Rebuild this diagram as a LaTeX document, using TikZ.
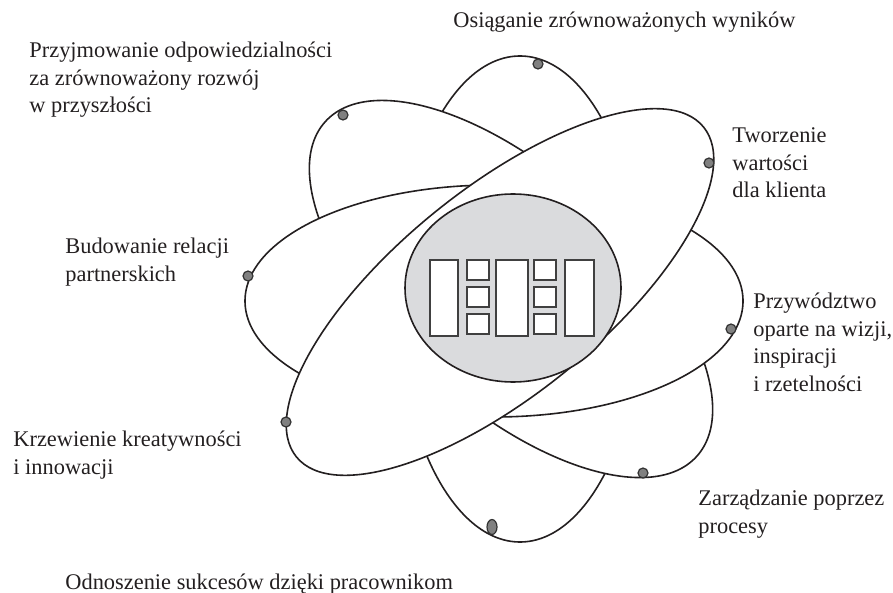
\documentclass[tikz,border=0pt]{standalone}
\usepackage{fontspec}
\setmainfont{Liberation Serif}
\usepackage{tikz}
\definecolor{coregray}{RGB}{218,219,221}
\definecolor{dotgray}{RGB}{128,128,128}
\definecolor{inkline}{RGB}{35,31,32}

\begin{document}
\begin{tikzpicture}[x=0.5pt,y=-0.5pt,
    orbit/.style={draw=inkline, line width=0.8pt, fill=white},
    core/.style={draw=inkline, line width=0.8pt, fill=coregray},
    cell/.style={draw=black!75, line width=1pt, fill=white},
    bead/.style={draw=black!80, line width=0.6pt, fill=dotgray},
    lbl/.style={anchor=base west, align=left, inner sep=0pt,
                font=\fontsize{11.2}{13.75}\selectfont, text=inkline}
  ]
  \useasboundingbox (0,0) rectangle (893,593);
  \draw[orbit] (520,299) ellipse (122 and 243);
  \draw[orbit, shift={(511,289)}, rotate=-42] (0,0) ellipse (250 and 117);
  \draw[orbit] (494,301) ellipse (249 and 116);
  \draw[orbit, shift={(500,292)}, rotate=39] (0,0) ellipse (262 and 103);
  \draw[core] (513,288) ellipse (108 and 94);
  \draw[cell] (430,260) rectangle (458,336);
  \draw[cell] (496,260) rectangle (528,336);
  \draw[cell] (565,260) rectangle (594,336);
  \foreach \x in {467,534}
    \foreach \y in {260,287,314}
      \draw[cell] (\x,\y) rectangle ++(22,20);
  \foreach \p in {(538,64),(343,115),(709,163),(248,276),(731,329),(286,422),(643,473)}
    \draw[bead] \p circle (5);
  \draw[bead] (492,527) ellipse (5 and 7.5);
  \node[lbl] (osi) at (453,28) {Osiąganie zrównoważonych wyników};
  \node[lbl] (prz) at (29,113) {Przyjmowanie odpowiedzialności\\za zrównoważony rozwój\\w przyszłości};
  \node[lbl] (two) at (732,198) {Tworzenie\\wartości\\dla klienta};
  \node[lbl] (bud) at (65,281) {Budowanie relacji\\partnerskich};
  \node[lbl] (prw) at (753,391) {Przywództwo\\oparte na wizji,\\inspiracji\\i rzetelności};
  \node[lbl] (krz) at (13,474) {Krzewienie kreatywności\\i innowacji};
  \node[lbl] (zar) at (698,533) {Zarządzanie poprzez\\procesy};
  \node[lbl] (odn) at (65,589) {Odnoszenie sukcesów dzięki pracownikom};
\end{tikzpicture}
\end{document}
